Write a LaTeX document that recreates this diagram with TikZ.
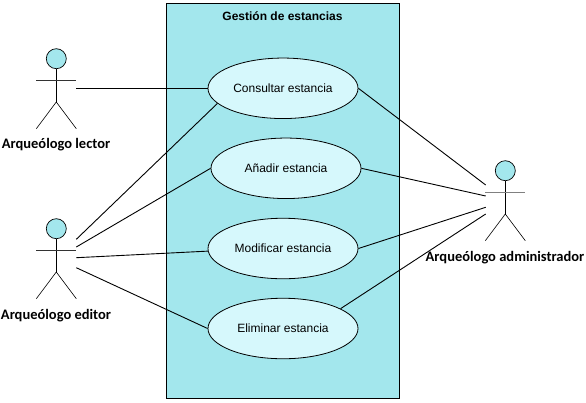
\documentclass[tikz,border=0pt]{standalone}
\usepackage{fontspec}
\setmainfont{Liberation Sans}
\newfontfamily\actorfont{Carlito}
\usetikzlibrary{shapes.geometric}

\tikzset{
	usecase/.style={ellipse, draw, fill=caseblue, line width=0.8pt, minimum width=150pt, minimum height=60.5pt, inner sep=0pt, font=\fontsize{12}{14}\selectfont},
	actorhead/.style={circle, draw, fill=boxblue, line width=0.7pt, minimum size=20pt, inner sep=0pt},
	actorname/.style={font=\actorfont\bfseries\fontsize{14.5}{17}\selectfont},
	assoc/.style={line width=0.9pt},
	limb/.style={line width=0.6pt},
	armthin/.style={line width=0.6pt, black!80},
	armthick/.style={line width=1.5pt, black!50}
}
\definecolor{boxblue}{HTML}{A3E7ED}
\definecolor{caseblue}{HTML}{D6F8FC}

\begin{document}
\begin{tikzpicture}[x=1pt, y=-1pt]
	\useasboundingbox (0,0) rectangle (586,402);
	\node[draw, fill=boxblue, line width=0.8pt, minimum width=233pt, minimum height=395pt, inner sep=0pt] (sistema) at (282.8,200.8) {};
	\node[font=\bfseries\fontsize{12}{14}\selectfont] (titulo) at (282.5,16.5) {Gestión de estancias};

	% casos de uso
	\node[usecase] (consultar) at (283,88.3) {Consultar estancia};
	\node[usecase] (anadir) at (286,168.3) {Añadir estancia};
	\node[usecase] (modificar) at (283,248.5) {Modificar estancia};
	\node[usecase] (eliminar) at (283,328.5) {Eliminar estancia};

	% actores
	\foreach \name/\x/\y/\arm in {lector/56.3/58.7/armthin, editor/56.3/228.7/armthin, admin/505.3/170.7/armthick}{
		\node[actorhead] (\name) at (\x,\y) {};
		\coordinate (\name cadera) at (\x,\y+43.3);
		\coordinate (\name pieizq) at (\x-20,\y+70);
		\coordinate (\name pieder) at (\x+20,\y+70);
		\coordinate (\name brazoizq) at (\x-20,\y+21.8);
		\coordinate (\name brazoder) at (\x+20,\y+21.8);
		\draw[limb] (\name) -- (\name cadera);
		\draw[\arm] (\name brazoizq) -- (\name brazoder);
		\draw[limb] (\name pieizq) -- (\name cadera) -- (\name pieder);
	}
	\node[actorname] (lectorname) at (56,144.5) {Arqueólogo lector};
	\node[actorname] (editorname) at (56,315.5) {Arqueólogo editor};
	\node[actorname] (adminname) at (505,258) {Arqueólogo administrador};

	% extremos libres
	\coordinate (lector1) at (76.3,88.3);
	\coordinate (editor1) at (76.3,239.3);
	\coordinate (editor2) at (76.3,247);
	\coordinate (editor3) at (76.3,257.7);
	\coordinate (editor4) at (76.3,267.7);
	\coordinate (admin1) at (485.7,185);
	\coordinate (admin2) at (485.7,196);
	\coordinate (admin3) at (485.7,207.3);
	\coordinate (admin4) at (485.7,214);

	\draw[assoc] (lector1) -- (consultar.west);
	\draw[assoc] (editor1) -- (consultar.-167);
	\draw[assoc] (editor2) -- (anadir.west);
	\draw[assoc] (editor3) -- (modificar.-178);
	\draw[assoc] (editor4) -- (eliminar.west);
	\draw[assoc] (admin1) -- (consultar.east);
	\draw[assoc] (admin2) -- (anadir.east);
	\draw[assoc] (admin3) -- (modificar.east);
	\draw[assoc] (admin4) -- (eliminar.19);
\end{tikzpicture}
\end{document}
